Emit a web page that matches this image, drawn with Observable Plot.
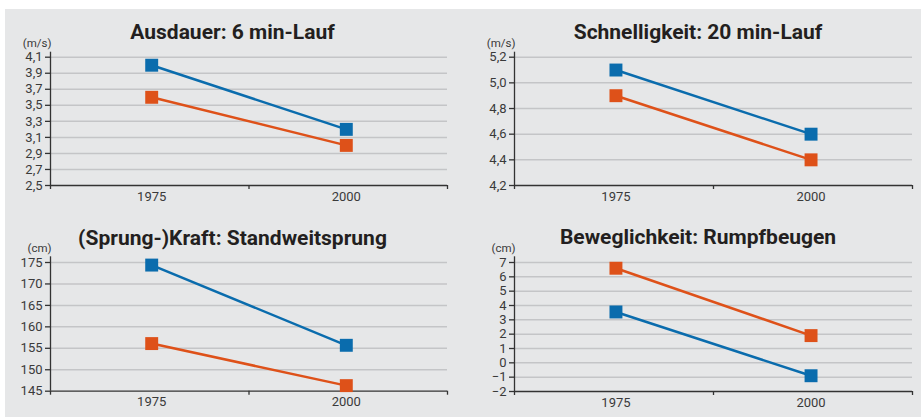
<!DOCTYPE html>
<html><head><meta charset="utf-8">
<script src="https://cdn.jsdelivr.net/npm/d3@7"></script>
<script src="https://cdn.jsdelivr.net/npm/@observablehq/plot@0.6"></script>
<style>
body{margin:0;background:#fff;font-family:Roboto,sans-serif;}
#chart{position:absolute;left:5px;top:9px;width:916px;height:408px;background:#e6e7e8;}
.cell{position:absolute;}
.cell svg{position:absolute;left:0;top:0;}
.title{position:absolute;font-weight:700;font-size:21px;line-height:21px;color:#231f20;white-space:nowrap;transform:translateX(-50%);}
</style></head><body><div id="chart"></div><script>
// Data
const years = [1975, 2000];
const yearEdges = [1962, 1987.5, 2013];
const groups = ["Jungen", "Mädchen"];
const groupColors = ["#0a6cad", "#de5119"];

const ausdauerJungen = [4.0, 3.2];
const ausdauerMaedchen = [3.6, 3.0];
const schnellJungen = [5.1, 4.6];
const schnellMaedchen = [4.9, 4.4];
const kraftJungen = [174.4, 155.7];
const kraftMaedchen = [156.1, 146.3];
const bewegJungen = [3.55, -0.9];
const bewegMaedchen = [6.6, 1.9];

const ticksAusdauer = [2.5, 2.7, 2.9, 3.1, 3.3, 3.5, 3.7, 3.9, 4.1];
const ticksSchnell = [4.2, 4.4, 4.6, 4.8, 5.0, 5.2];
const ticksKraft = [145, 150, 155, 160, 165, 170, 175];
const ticksBeweg = [-2, -1, 0, 1, 2, 3, 4, 5, 6, 7];

const panels = [
  {title: "Ausdauer: 6 min-Lauf", unit: "(m/s)", a: ausdauerJungen, b: ausdauerMaedchen, ticks: ticksAusdauer, fmt: d => d.toFixed(1).replace(".", ","),
   left: 0, top: 0, width: 455, height: 199, mt: 42.7, mb: 23, ml: 45, mr: 13, inset: 5, tx: 227.5, tb: 31},
  {title: "Schnelligkeit: 20 min-Lauf", unit: "(m/s)", a: schnellJungen, b: schnellMaedchen, ticks: ticksSchnell, fmt: d => d.toFixed(1).replace(".", ","),
   left: 455, top: 0, width: 461, height: 199, mt: 42.7, mb: 23, ml: 54, mr: 9, inset: 5, tx: 238, tb: 31},
  {title: "(Sprung-)Kraft: Standweitsprung", unit: "(cm)", a: kraftJungen, b: kraftMaedchen, ticks: ticksKraft, fmt: d => String(d),
   left: 0, top: 199, width: 455, height: 209, mt: 48.3, mb: 26.3, ml: 45, mr: 13, inset: 5.7, tx: 227.5, tb: 38},
  {title: "Beweglichkeit: Rumpfbeugen", unit: "(cm)", a: bewegJungen, b: bewegMaedchen, ticks: ticksBeweg, fmt: d => d < 0 ? "\u2212" + (-d) : String(d),
   left: 455, top: 199, width: 461, height: 209, mt: 48.3, mb: 26, ml: 54, mr: 9, inset: 5.7, tx: 238, tb: 37}
];

const chart = document.getElementById("chart");
const axisColor = "#333";
const labelColor = "#3a3a3a";

for (const p of panels) {
  const data = [];
  years.forEach((yr, i) => {
    data.push({year: yr, value: p.a[i], group: groups[0]});
    data.push({year: yr, value: p.b[i], group: groups[1]});
  });
  const yMin = p.ticks[0], yMax = p.ticks[p.ticks.length - 1];
  const svg = Plot.plot({
    width: p.width, height: p.height,
    marginTop: p.mt, marginBottom: p.mb, marginLeft: p.ml, marginRight: p.mr,
    style: {background: "transparent", fontFamily: "Roboto, sans-serif", fontSize: "13px", color: labelColor, overflow: "visible"},
    x: {domain: [yearEdges[0], yearEdges[yearEdges.length - 1]], axis: null},
    y: {domain: [yMin, yMax], insetTop: p.inset, axis: null},
    color: {domain: groups, range: groupColors},
    marks: [
      Plot.gridY(p.ticks.slice(1), {stroke: "#c4c5c7", strokeOpacity: 1, strokeWidth: 1.5}),
      Plot.ruleX([yearEdges[0]], {stroke: axisColor, strokeWidth: 1.3}),
      Plot.ruleY([yMin], {stroke: axisColor, strokeWidth: 1.3}),
      Plot.axisY(p.ticks, {tickSize: 5, tickPadding: 3, tickFormat: p.fmt, stroke: axisColor, strokeWidth: 1.3, fill: labelColor, fontSize: 13, label: null}),
      Plot.axisX(yearEdges, {tickSize: 4, tickFormat: () => "", stroke: axisColor, strokeWidth: 1.3, label: null}),
      Plot.axisX(years, {tickSize: 0, tickPadding: 6, tickFormat: d => String(d), fill: labelColor, fontSize: 13, label: null}),
      Plot.line(data, {x: "year", y: "value", z: "group", stroke: "group", strokeWidth: 2.5}),
      Plot.dot(data, {x: "year", y: "value", symbol: "square", r: 7.3, fill: "group", stroke: null}),
      Plot.text([p.unit], {frameAnchor: "top-left", textAnchor: "end", lineAnchor: "bottom", dx: 1, dy: -5, fontSize: 11.5, fill: labelColor})
    ]
  });
  const cell = document.createElement("div");
  cell.className = "cell";
  cell.style.left = p.left + "px";
  cell.style.top = p.top + "px";
  cell.style.width = p.width + "px";
  cell.style.height = p.height + "px";
  cell.appendChild(svg);
  const t = document.createElement("div");
  t.className = "title";
  t.textContent = p.title;
  t.style.left = p.tx + "px";
  t.style.top = (p.tb - 17.7) + "px";
  cell.appendChild(t);
  chart.appendChild(cell);
}
</script></body></html>
